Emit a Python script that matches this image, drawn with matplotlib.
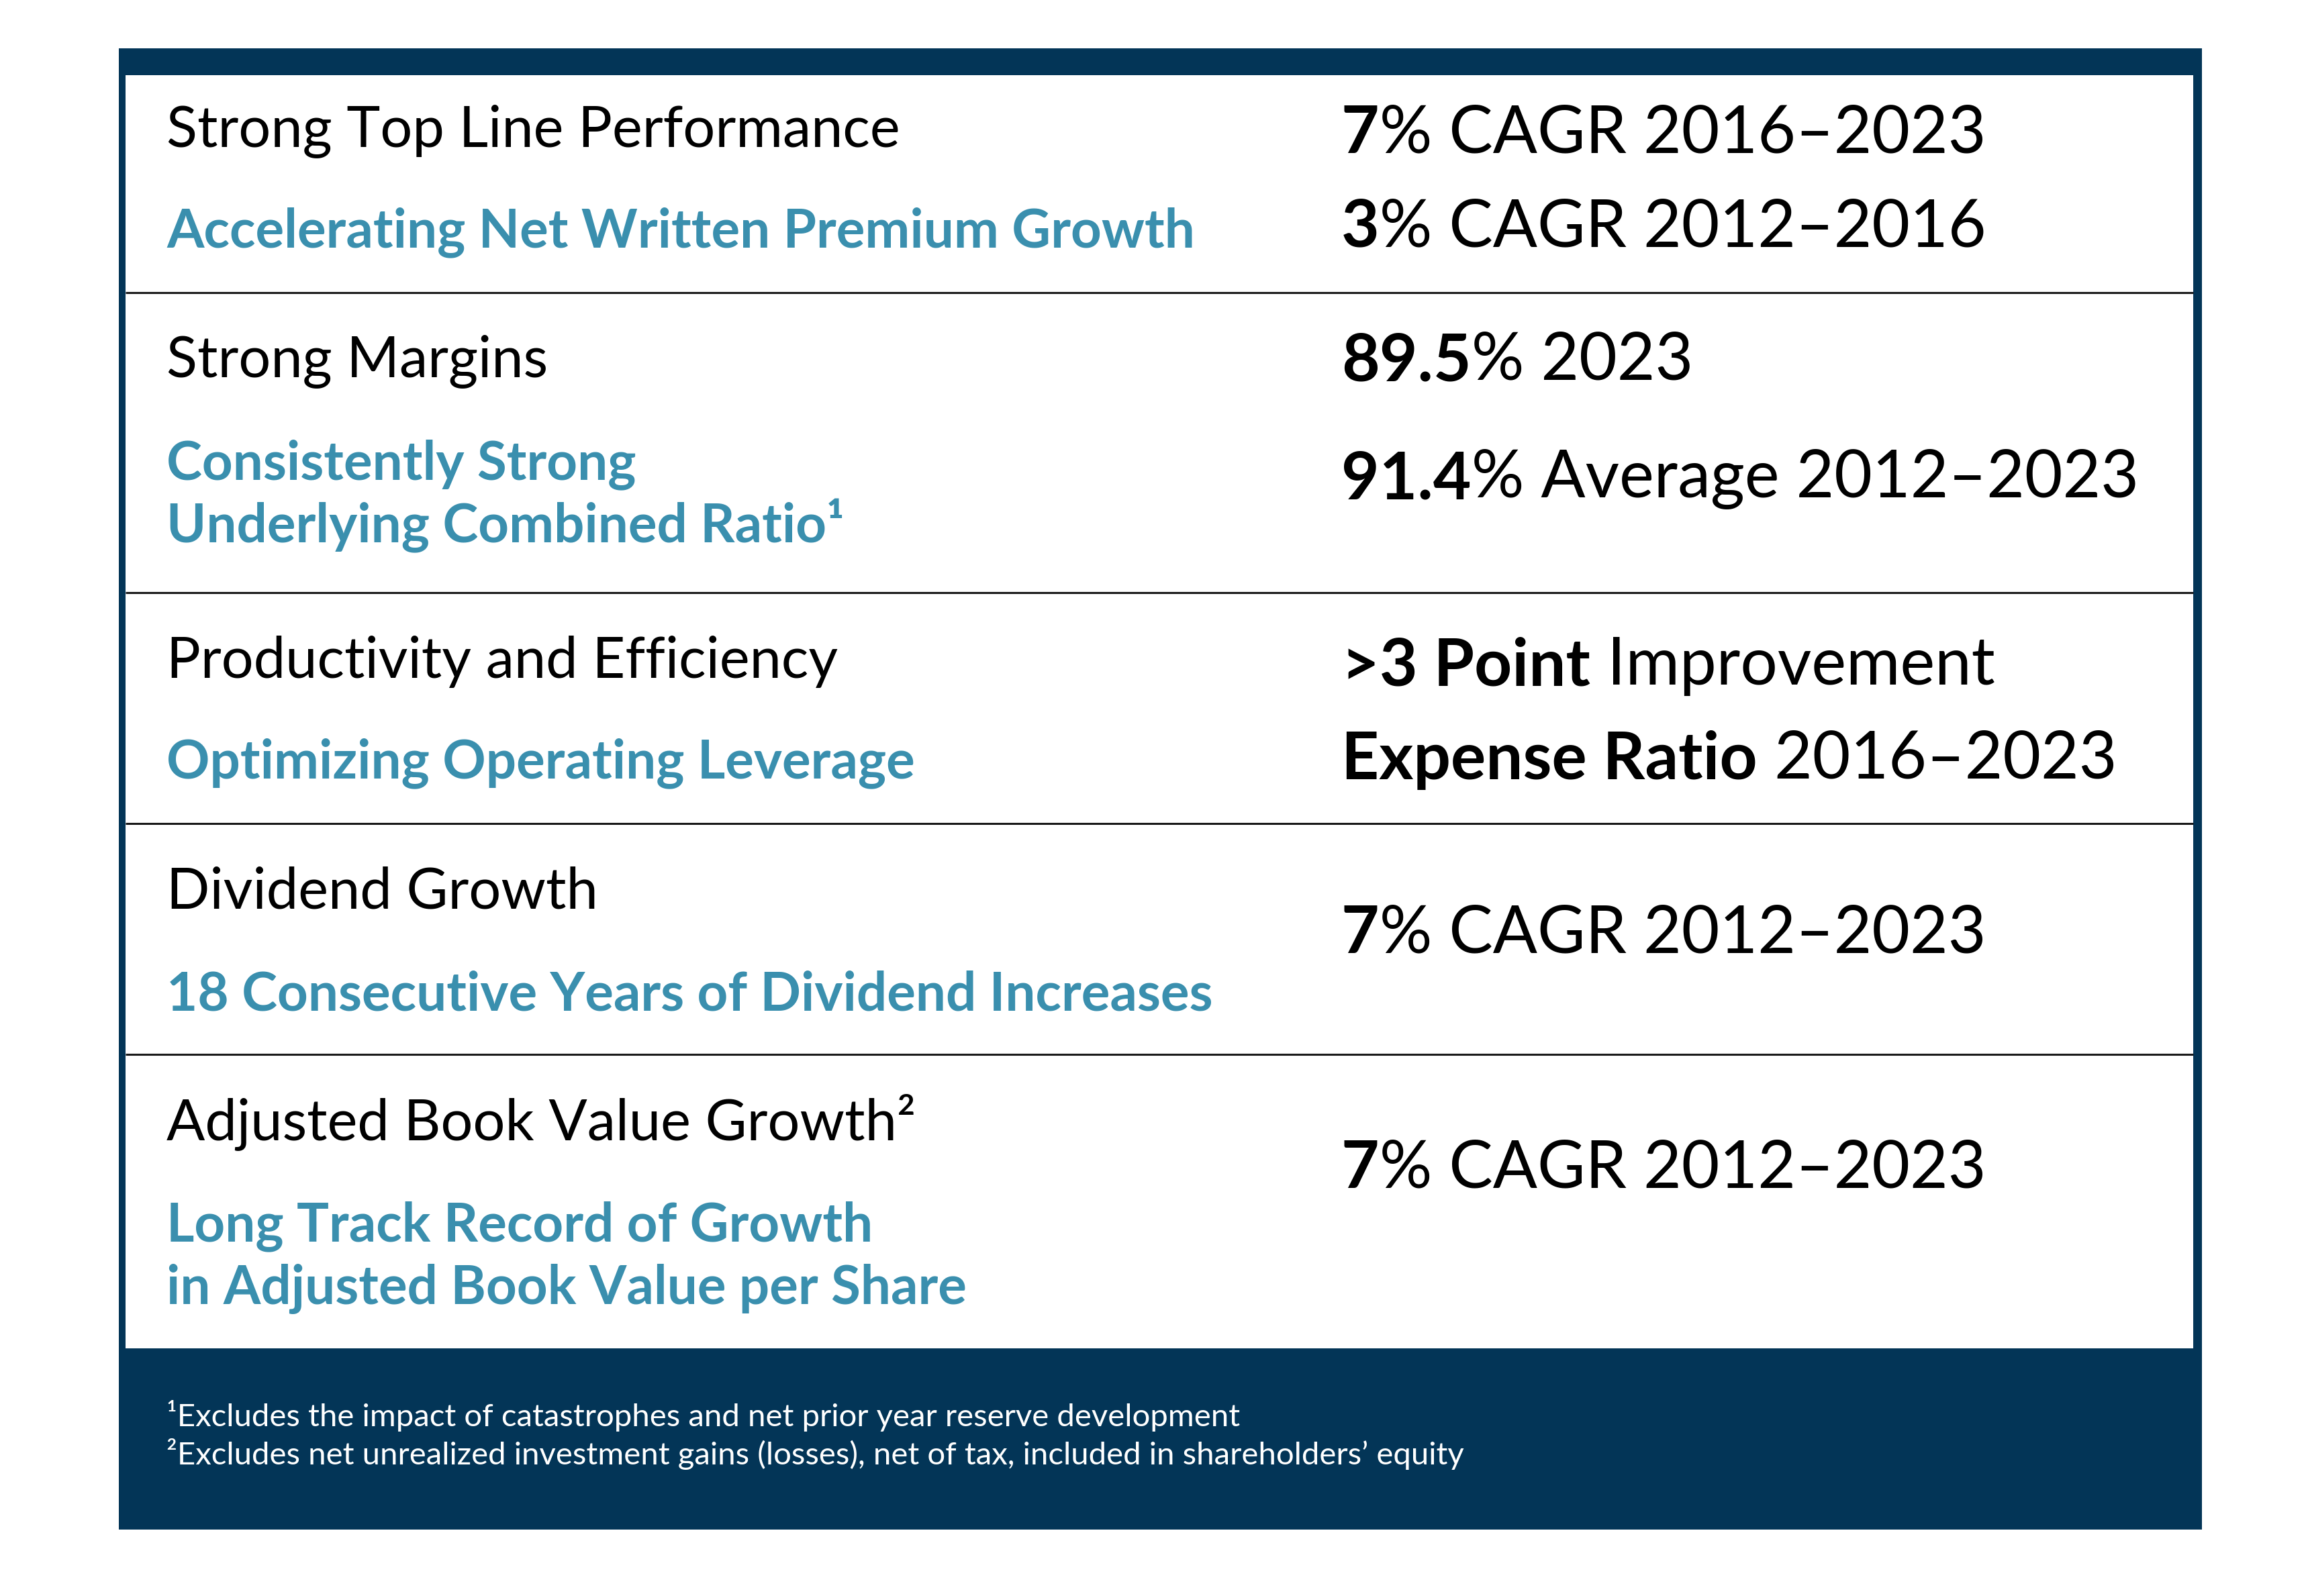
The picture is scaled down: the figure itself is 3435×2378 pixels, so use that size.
import matplotlib.pyplot as plt
from matplotlib.patches import Rectangle

# Canvas in pixels (dpi 100)
W, H = 3435, 2378
NAVY = '#033557'
TEAL = '#3A8FAE'
FONT = 'Lato'

row_titles = [
    "Strong Top Line Performance",
    "Strong Margins",
    "Productivity and Efficiency",
    "Dividend Growth",
    "Adjusted Book Value Growth\u00b2",
]
row_subtitles = [
    ["Accelerating Net Written Premium Growth"],
    ["Consistently Strong", "Underlying Combined Ratio\u00b9"],
    ["Optimizing Operating Leverage"],
    ["18 Consecutive Years of Dividend Increases"],
    ["Long Track Record of Growth", "in Adjusted Book Value per Share"],
]
# right column: each line is a list of (text, bold) runs
row_metrics = [
    [[("7", True), ("% CAGR 2016\u20132023", False)],
     [("3", True), ("% CAGR 2012\u20132016", False)]],
    [[("89.5", True), ("% 2023", False)],
     [("91.4", True), ("% Average 2012\u20132023", False)]],
    [[(">3 Point", True), (" Improvement", False)],
     [("Expense Ratio", True), (" 2016\u20132023", False)]],
    [[("7", True), ("% CAGR 2012\u20132023", False)]],
    [[("7", True), ("% CAGR 2012\u20132023", False)]],
]
footnotes = [
    "\u00b9Excludes the impact of catastrophes and net prior year reserve development",
    "\u00b2Excludes net unrealized investment gains (losses), net of tax, included in shareholders\u2019 equity",
]

# layout (pixel baselines)
row_lines = [436, 883, 1227, 1571]
title_y = [218, 561, 1010, 1354, 1698]
sub_y = [[368], [714, 808], [1159], [1505], [1849, 1943]]
metric_y = [[228, 368], [567, 743], [1021, 1161], [1420], [1770]]
foot_y = [2125, 2182]
x_left, x_right = 248, 1998

fig = plt.figure(figsize=(W / 100, H / 100), dpi=100)
ax = fig.add_axes([0, 0, 1, 1])
ax.set_xlim(0, W)
ax.set_ylim(H, 0)
ax.axis('off')

# frame
ax.add_patch(Rectangle((177, 72), 3280 - 177, 2279 - 72, color=NAVY, lw=0))
ax.add_patch(Rectangle((187, 112), 3267 - 187, 2009 - 112, color='white', lw=0))
for y in row_lines:
    ax.plot([187, 3267], [y, y], color='#1a1a1a', lw=2.2, solid_capstyle='butt')

for i, title in enumerate(row_titles):
    ax.text(x_left, title_y[i], title, fontsize=61, family=FONT, color='black',
            va='baseline', ha='left')
    for line, y in zip(row_subtitles[i], sub_y[i]):
        ax.text(x_left, y, line, fontsize=57.5, family=FONT, weight='bold',
                color=TEAL, va='baseline', ha='left')
    for runs, y in zip(row_metrics[i], metric_y[i]):
        prev = None
        for txt, bold in runs:
            w = 'bold' if bold else 'normal'
            if prev is None:
                prev = ax.text(x_right, y, txt, fontsize=70.5, family=FONT, weight=w,
                               color='black', va='baseline', ha='left')
            else:
                prev = ax.annotate(txt, xy=(1, 0), xycoords=prev, fontsize=70.5,
                                   family=FONT, weight=w, color='black',
                                   va='bottom', ha='left')

for note, y in zip(footnotes, foot_y):
    ax.text(x_left, y, note, fontsize=34, family=FONT, color='white',
            va='baseline', ha='left')

fig.savefig('out.png', dpi=100, facecolor='white')
